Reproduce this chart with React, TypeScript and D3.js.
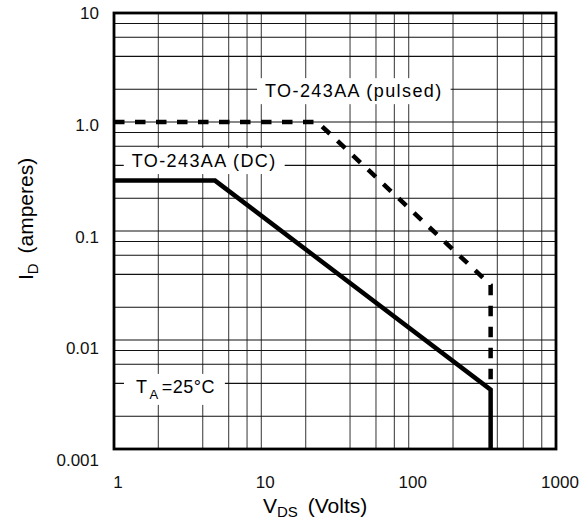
import React, { useEffect, useRef } from 'react';
import * as d3 from 'd3';

// axis ticks
const xTickValues = [1, 10, 100, 1000];
const xTickLabels = ['1', '10', '100', '1000'];
const yTickValues = [0.001, 0.01, 0.1, 1, 10];
const yTickLabels = ['0.001', '0.01', '0.1', '1.0', '10'];
const gridSteps = [1, 2, 4, 6, 8];

// curves (V, A)
const pulsedV = [1, 24, 360, 360];
const pulsedI = [1.0, 1.0, 0.032, 0.0035];
const dcV = [1, 4.85, 360, 360];
const dcI = [0.29, 0.29, 0.0035, 0.001];

// annotation anchors (V, A)
const noteText = ['TO-243AA (pulsed)', 'TO-243AA (DC)'];
const noteV = [10.6, 1.32];
const noteI = [1.69, 0.386];
const tempV = 1.41;
const tempI = 0.00327;

function App() {
  const ref = useRef<SVGSVGElement>(null);
  const width = 583;
  const height = 522;
  const margin = { top: 13, left: 114, right: 27, bottom: 73 };
  const font = 'Arial, "Liberation Sans", sans-serif';

  useEffect(() => {
    const svg = d3.select(ref.current);
    svg.selectAll('*').remove();

    const x = d3.scaleLog().domain([1, 1000]).range([margin.left, width - margin.right]);
    const y = d3.scaleLog().domain([0.001, 10]).range([height - margin.bottom, margin.top]);
    // tick labels in the datasheet sit slightly off the grid
    const xLab = d3.scaleLog().domain([1, 1000]).range([118, 560]);
    const yLab = d3.scaleLog().domain([0.001, 10]).range([460, 13]);

    const xGrid: number[] = [];
    const yGrid: number[] = [];
    [1, 10, 100].forEach(d => gridSteps.forEach(m => { if (d * m > 1) xGrid.push(d * m); }));
    [0.001, 0.01, 0.1, 1].forEach(d => gridSteps.forEach(m => { if (d * m > 0.001) yGrid.push(d * m); }));

    const g = svg.append('g');
    g.selectAll('line.vx').data(xGrid).enter().append('line')
      .attr('x1', d => x(d)).attr('x2', d => x(d))
      .attr('y1', y(0.001)).attr('y2', y(10))
      .attr('stroke', '#555').attr('stroke-width', 1.2);
    g.selectAll('line.hy').data(yGrid).enter().append('line')
      .attr('x1', x(1)).attr('x2', x(1000))
      .attr('y1', d => y(d)).attr('y2', d => y(d))
      .attr('stroke', '#111').attr('stroke-width', 1.1);

    // annotations with white boxes
    const notes = svg.append('g').attr('font-family', font).attr('font-size', 18).attr('letter-spacing', 1.4);
    const addBox = (t: d3.Selection<SVGTextElement, unknown, null, undefined>, padL: number, padR: number) => {
      const b = (t.node() as SVGTextElement).getBBox();
      notes.insert('rect', 'text')
        .attr('x', b.x - padL).attr('y', b.y - 3)
        .attr('width', b.width + padL + padR).attr('height', b.height + 6)
        .attr('fill', 'white');
    };
    noteText.forEach((s, i) => {
      const t = notes.append('text').attr('x', x(noteV[i])).attr('y', y(noteI[i])).text(s);
      addBox(t, 8, 8);
    });
    const tt = notes.append('text').attr('x', x(tempV)).attr('y', y(tempI)).attr('letter-spacing', 0.5);
    tt.append('tspan').text('T');
    tt.append('tspan').attr('font-size', 13).attr('dy', 6).attr('dx', 2).text('A');
    tt.append('tspan').attr('dy', -6).attr('dx', 3).text('=25°C');
    addBox(tt, 12, 10);

    // curves
    const line = d3.line<[number, number]>().x(d => x(d[0])).y(d => y(d[1]));
    svg.append('path')
      .attr('d', line(pulsedV.map((v, i) => [v, pulsedI[i]] as [number, number])))
      .attr('fill', 'none').attr('stroke', '#000').attr('stroke-width', 4.5)
      .attr('stroke-dasharray', '10.5 10.5');
    svg.append('path')
      .attr('d', line(dcV.map((v, i) => [v, dcI[i]] as [number, number])))
      .attr('fill', 'none').attr('stroke', '#000').attr('stroke-width', 4.5);

    // frame
    svg.append('rect')
      .attr('x', x(1)).attr('y', y(10))
      .attr('width', x(1000) - x(1)).attr('height', y(0.001) - y(10))
      .attr('fill', 'none').attr('stroke', '#000').attr('stroke-width', 2.8);

    // tick labels
    const labels = svg.append('g').attr('font-family', font).attr('font-size', 17).attr('fill', '#111');
    labels.selectAll('text.xl').data(xTickValues).enter().append('text')
      .attr('x', d => xLab(d)).attr('y', 488).attr('text-anchor', 'middle')
      .text((d, i) => xTickLabels[i]);
    labels.selectAll('text.yl').data(yTickValues).enter().append('text')
      .attr('x', 99).attr('y', d => yLab(d) + 6).attr('text-anchor', 'end')
      .text((d, i) => yTickLabels[i]);

    // axis titles
    const xt = svg.append('text').attr('font-family', font).attr('font-size', 21)
      .attr('x', 263).attr('y', 513);
    xt.append('tspan').text('V');
    xt.append('tspan').attr('font-size', 15).attr('dy', 4).text('DS');
    xt.append('tspan').attr('dy', -4).attr('dx', 4).text('  (Volts)');

    const yt = svg.append('text').attr('font-family', font).attr('font-size', 21)
      .attr('transform', 'translate(33,280) rotate(-90)');
    yt.append('tspan').text('I');
    yt.append('tspan').attr('font-size', 15).attr('dy', 5).text('D');
    yt.append('tspan').attr('dy', -5).attr('dx', 4).text(' (amperes)');
  }, []);

  return (
    <div style={{ position: 'absolute', left: 0, top: 0 }}>
      <svg ref={ref} width={width} height={height} style={{ display: 'block', background: 'white' }} />
    </div>
  );
}

export default App;
